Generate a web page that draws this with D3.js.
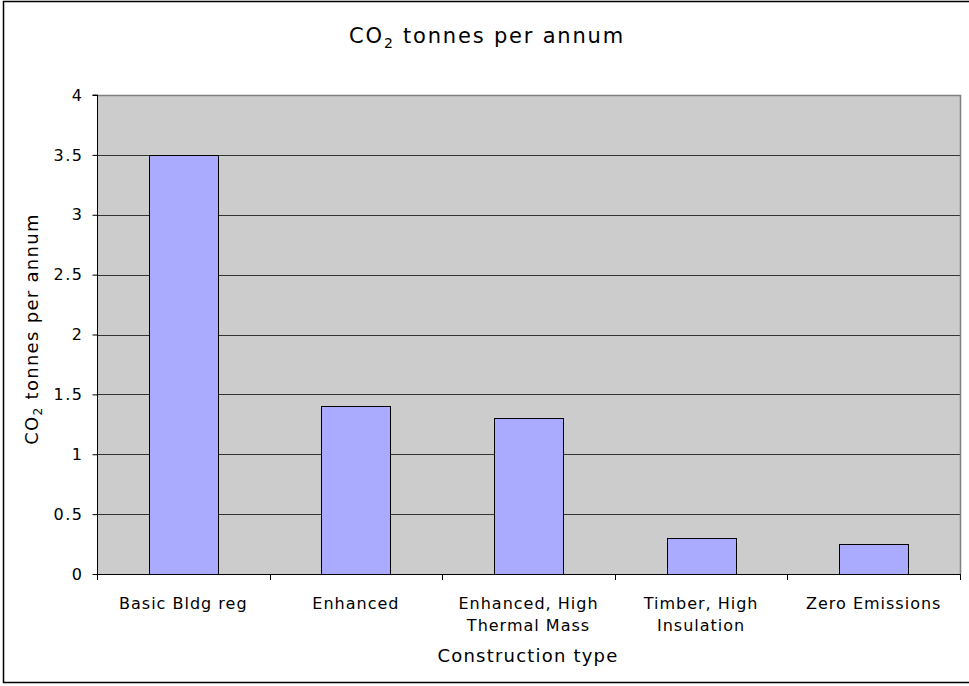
<!DOCTYPE html>
<html>
<head>
<meta charset="utf-8">
<script src="https://cdn.jsdelivr.net/npm/d3@7"></script>
<style>
  html, body { margin: 0; padding: 0; background: #fff; }
  svg { display: block; font-family: "DejaVu Sans", Verdana, sans-serif; }
</style>
</head>
<body>
<svg id="chart" width="969" height="686"></svg>
<script>
const categories = [["Basic Bldg reg"], ["Enhanced"], ["Enhanced, High", "Thermal Mass"], ["Timber, High", "Insulation"], ["Zero Emissions"]];
const values = [3.5, 1.4, 1.3, 0.3, 0.25];
const yTicks = [0, 0.5, 1, 1.5, 2, 2.5, 3, 3.5, 4];
const yTickLabels = ["0", "0.5", "1", "1.5", "2", "2.5", "3", "3.5", "4"];
const titleMain = "CO";
const titleSub = "2";
const titleRest = " tonnes per annum";
const xTitle = "Construction type";

const svg = d3.select("#chart");
const plot = { left: 97, right: 960, top: 95, bottom: 574 };

// outer border
svg.append("rect").attr("x", 3.5).attr("y", 1.5).attr("width", 975).attr("height", 681)
  .attr("fill", "#fff").attr("stroke", "#000").attr("stroke-width", 1.5);

const ids = categories.map((c, i) => i);
const x = d3.scaleBand().domain(ids).range([plot.left, plot.right]).paddingInner(0).paddingOuter(0);
const y = d3.scaleLinear().domain([0, 4]).range([plot.bottom, plot.top]);

// plot background
svg.append("rect").attr("x", plot.left).attr("y", plot.top)
  .attr("width", plot.right - plot.left).attr("height", plot.bottom - plot.top)
  .attr("fill", "#cccccc");

// gridlines
svg.append("g").selectAll("line").data(yTicks.filter(t => t > 0 && t < 4)).join("line")
  .attr("x1", plot.left).attr("x2", plot.right)
  .attr("y1", d => Math.round(y(d)) + 0.5).attr("y2", d => Math.round(y(d)) + 0.5)
  .attr("stroke", "#333").attr("stroke-width", 1);

// plot border top & right (grey)
svg.append("path")
  .attr("d", `M${plot.left},${plot.top + 0.5}H${plot.right + 0.5}V${plot.bottom}`)
  .attr("fill", "none").attr("stroke", "#808080").attr("stroke-width", 1.5);

// bars
const bw = x.bandwidth() * 0.4;
svg.append("g").selectAll("rect").data(values).join("rect")
  .attr("x", (d, i) => Math.round(x(i) + x.bandwidth() / 2 - bw / 2) + 0.5)
  .attr("y", d => Math.round(y(d)) + 0.5)
  .attr("width", Math.round(bw))
  .attr("height", d => Math.round(y(0)) - Math.round(y(d)))
  .attr("fill", "#aaaaff").attr("stroke", "#000").attr("stroke-width", 1);

// y axis
const yAxis = d3.axisLeft(y).tickValues(yTicks).tickFormat((d, i) => yTickLabels[i]).tickSize(5).tickPadding(9);
const gy = svg.append("g").attr("transform", `translate(${plot.left + 0.5},0)`).call(yAxis);
gy.selectAll("text").attr("font-size", 16).attr("letter-spacing", 1.5).attr("fill", "#000")
  .attr("font-family", "DejaVu Sans, Verdana, sans-serif");
gy.selectAll("line,path").attr("stroke", "#000");
gy.select(".domain").attr("d", `M-5,${plot.top}H0V${plot.bottom}`);

// x axis line + ticks
const gx = svg.append("g");
gx.append("line").attr("x1", plot.left).attr("x2", plot.right + 1)
  .attr("y1", plot.bottom + 0.5).attr("y2", plot.bottom + 0.5).attr("stroke", "#000");
const bounds = ids.map(i => x(i)).concat([plot.right]);
gx.selectAll("line.tk").data(bounds).join("line").attr("class", "tk")
  .attr("x1", d => Math.round(d) + 0.5).attr("x2", d => Math.round(d) + 0.5)
  .attr("y1", plot.bottom).attr("y2", plot.bottom + 6).attr("stroke", "#000");

// x labels
const xl = svg.append("g").selectAll("text").data(categories).join("text")
  .attr("x", (d, i) => x(i) + x.bandwidth() / 2)
  .attr("y", 609)
  .attr("text-anchor", "middle").attr("font-size", 16).attr("letter-spacing", 1).attr("fill", "#000");
xl.each(function(d) {
  const t = d3.select(this);
  d.forEach((line, k) => {
    t.append("tspan").attr("x", t.attr("x")).attr("dy", k === 0 ? 0 : 22).text(line);
  });
});

// x title
svg.append("text").attr("x", 528).attr("y", 662).attr("text-anchor", "middle")
  .attr("font-size", 18).attr("letter-spacing", 1.2).attr("fill", "#000").text(xTitle);

// chart title
const tt = svg.append("text").attr("x", 487).attr("y", 43).attr("text-anchor", "middle")
  .attr("font-size", 21).attr("letter-spacing", 1.8).attr("fill", "#000");
tt.append("tspan").text(titleMain);
tt.append("tspan").attr("font-size", 14).attr("dy", 5).text(titleSub);
tt.append("tspan").attr("dy", -5).text(titleRest);

// y title
const yt = svg.append("text").attr("transform", `translate(38,329) rotate(-90)`)
  .attr("text-anchor", "middle").attr("font-size", 18).attr("letter-spacing", 1.3).attr("fill", "#000");
yt.append("tspan").text(titleMain);
yt.append("tspan").attr("font-size", 12).attr("dy", 4).text(titleSub);
yt.append("tspan").attr("dy", -4).text(titleRest);
</script>
</body>
</html>
